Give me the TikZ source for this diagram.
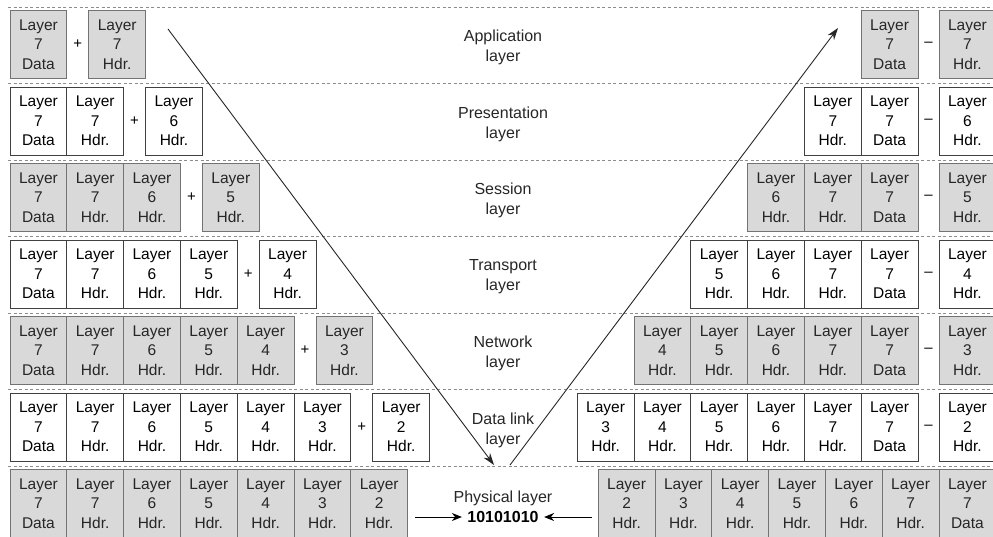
\documentclass[tikz,border=0pt]{standalone}
\usepackage{fontspec}
\setmainfont{Liberation Sans}
\usetikzlibrary{arrows.meta}

\begin{document}
\begin{tikzpicture}[x=1pt, y=-1pt, >={Stealth[length=10pt, width=8pt]}, every node/.style={font=\fontsize{15.5}{19.5}\selectfont}]
\tikzstyle{block}=[rectangle, draw, align=center, minimum width=56.8pt, minimum height=68pt, inner sep=0pt, line width=0.9pt]
\tikzstyle{shaded}=[block, fill=gray!30, draw=black!55, text=black!85]
\tikzstyle{plain}=[block, fill=white, draw=black!75]
\tikzstyle{sep}=[draw=black!45, dash pattern=on 3pt off 2.5pt, line width=0.8pt]
\tikzstyle{layername}=[align=center, font=\fontsize{16}{20}\selectfont, text=black!85]
\tikzstyle{sign}=[font=\fontsize{15}{15}\selectfont]

\useasboundingbox (0,0) rectangle (993,537);

% dashed lines between the layers
\foreach \r in {0,...,6}
  \draw[sep] (8,{7+\r*76.5}) -- (993,{7+\r*76.5});

% layer names in the middle
\node[layername] (app) at (503,47.5) {Application\\layer};
\node[layername] (pres) at (503,124) {Presentation\\layer};
\node[layername] (sess) at (503,200.5) {Session\\layer};
\node[layername] (trans) at (503,277) {Transport\\layer};
\node[layername] (net) at (503,353.5) {Network\\layer};
\node[layername] (link) at (503,430) {Data link\\layer};
\node[layername] (phys) at (503,498) {Physical layer};
\node[font=\fontsize{16}{20}\selectfont\bfseries] (bits) at (503,517) {10101010};

% sending side: headers added
\foreach \r/\st in {1/shaded,2/plain,3/shaded,4/plain,5/shaded,6/plain} {
  \pgfmathsetmacro{\cy}{44.5+(\r-1)*76.5}
  \foreach \i in {1,...,\r} {
    \pgfmathtruncatemacro{\n}{\i==1 ? 7 : 9-\i}
    \node[\st] (s\r-\i) at ({10+(\i-0.5)*56.8},\cy) {Layer\\\n\\\ifnum\i=1 Data\else Hdr.\fi};
  }
  \pgfmathtruncatemacro{\m}{8-\r}
  \node[sign] (plus\r) at ({10+\r*56.8+11},\cy) {+};
  \node[\st] (sh\r) at ({10+\r*56.8+50.4},\cy) {Layer\\\m\\Hdr.};
}
\foreach \i in {1,...,7} {
  \pgfmathtruncatemacro{\n}{\i==1 ? 7 : 9-\i}
  \node[shaded] (s7-\i) at ({10+(\i-0.5)*56.8},503.5) {Layer\\\n\\\ifnum\i=1 Data\else Hdr.\fi};
}

% receiving side: headers removed
\foreach \r/\st in {1/shaded,2/plain,3/shaded,4/plain,5/shaded,6/plain} {
  \pgfmathsetmacro{\cy}{44.5+(\r-1)*76.5}
  \foreach \k in {1,...,\r} {
    \pgfmathtruncatemacro{\n}{\k==1 ? 7 : 9-\k}
    \node[\st] (t\r-\k) at ({918-(\k-0.5)*56.8},\cy) {Layer\\\n\\\ifnum\k=1 Data\else Hdr.\fi};
  }
  \pgfmathtruncatemacro{\m}{8-\r}
  \node[sign] (minus\r) at (928.5,\cy) {–};
  \node[\st] (th\r) at (967.4,\cy) {Layer\\\m\\Hdr.};
}
\foreach \k in {1,...,7} {
  \pgfmathtruncatemacro{\n}{\k==1 ? 7 : 9-\k}
  \node[shaded] (t7-\k) at ({995.8-(\k-0.5)*56.8},503.5) {Layer\\\n\\\ifnum\k=1 Data\else Hdr.\fi};
}

% the way down and up
\coordinate (down1) at (168,29);
\coordinate (down2) at (494,465);
\coordinate (up1) at (510,465);
\coordinate (up2) at (838,28);
\draw[->, line width=0.9pt, black!85, >={Stealth[length=12pt, width=8pt]}] (down1) -- (down2);
\draw[->, line width=0.9pt, black!85, >={Stealth[length=12pt, width=8pt]}] (up1) -- (up2);
\coordinate (wire1) at (415,517);
\coordinate (wire2) at (592,517);
\draw[->, line width=0.9pt, shorten >=2pt] (wire1) -- (bits);
\draw[->, line width=0.9pt, shorten >=2pt] (wire2) -- (bits);
\end{tikzpicture}
\end{document}
